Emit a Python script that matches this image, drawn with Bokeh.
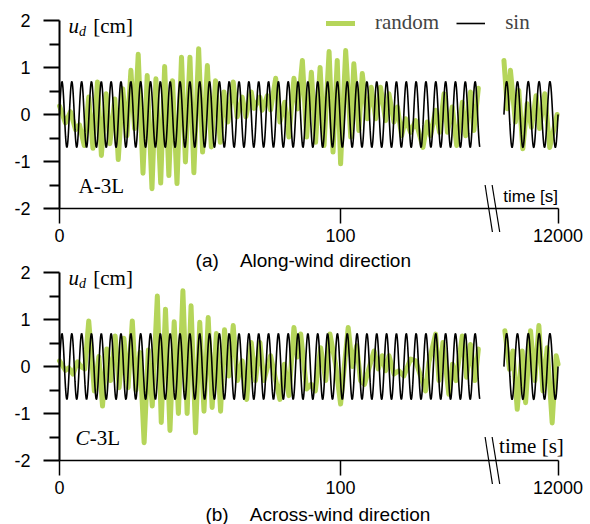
import numpy as np
from bokeh.plotting import figure
from bokeh.models import (LinearAxis, FixedTicker, Label, Legend, LegendItem, Range1d)
from bokeh.layouts import column
from bokeh.embed import file_html
from bokeh.resources import INLINE

# ---------------- data ----------------
SIN_AMPLITUDE = 0.7
SIN_PERIOD = 12000 / 3429          # ~3.5 s
SIN_LEFT_END = 149.5
RIGHT_START = 11982.5
RIGHT_END = 12000

X_TICKS = [0, 100, 12000]
X_TICK_LABELS = ["0", "100", "12000"]
Y_TICKS = [-2, -1, 0, 1, 2]
Y_TICK_LABELS = ["-2", "-1", "0", "1", "2"]
Y_MINOR = [-1.5, -0.5, 0.5, 1.5]

# (a) along-wind, random record: extrema (time, value)
a_left_t = [0.0, 2.1, 3.9, 5.7, 7.1, 8.8, 10.4, 11.9, 13.5, 14.9, 16.6, 17.9, 19.7, 20.9,
            22.5, 24.0, 25.4, 26.7, 28.0, 29.7, 31.2, 32.9, 34.3, 36.0, 37.4, 38.9, 40.2,
            41.8, 43.4, 44.8, 46.4, 47.8, 49.5, 50.9, 52.6, 54.0, 55.5, 57.2, 58.5, 59.9,
            61.8, 63.2, 65.0, 66.3, 68.2, 69.2, 71.3, 72.1, 73.9, 75.1, 76.9, 78.4, 80.1,
            81.6, 83.4, 84.8, 86.4, 87.9, 89.6, 91.1, 92.7, 94.1, 95.9, 97.3, 98.8, 100.0,
            101.8, 103.6, 104.7, 106.5, 107.7, 109.5, 110.9, 112.5, 114.2, 116.0, 117.2,
            119.0, 120.2, 121.7, 123.1, 124.9, 126.7, 129.3, 130.8, 132.0, 133.8, 135.2,
            136.8, 138.0, 139.7, 141.3, 143.3, 144.5, 146.2, 147.4, 149.0]
a_left_v = [0.18, -0.18, 0.06, -0.32, -0.22, -0.66, 0.37, -0.72, 0.69, -0.87, 0.44, -0.62,
            0.33, -0.96, 0.55, -0.45, 0.94, -0.3, 1.28, -1.25, 0.83, -1.58, 0.76, -1.46,
            1.02, -1.3, 0.72, -1.47, 1.22, -1.01, 1.22, -1.24, 1.4, -0.8, 1.04, -0.69, 0.72,
            -0.59, 0.48, -0.16, 0.69, -0.05, 0.37, -0.05, 0.48, 0.13, 0.37, 0.09, 0.4, 0.1,
            0.77, -0.16, 0.26, -0.48, 0.77, 0.12, 1.15, -0.48, 0.9, -0.59, 1.0, -0.66, 1.34,
            -0.8, 1.15, -1.05, 1.36, -0.48, 1.08, -0.34, 0.87, -0.09, 0.58, -0.09, 0.58,
            -0.13, 0.44, -0.16, 0.16, -0.45, -0.09, -0.38, -0.13, -0.7, -0.16, -0.45, 0.09,
            -0.38, 0.44, -0.38, 0.16, -0.66, 0.26, -0.45, 0.48, -0.34, 0.56]
a_right_t = [11982.5, 11983.6, 11984.6, 11986.2, 11987.3, 11988.6, 11990.0, 11991.4,
             11992.9, 11994.0, 11995.7, 11997.3, 11999.7]
a_right_v = [1.15, 0.12, 0.94, -0.16, 0.51, -0.73, 0.23, -0.27, 0.4, -0.3, 0.44, -0.7, 0.0]

# (b) across-wind, random record: extrema (time, value)
b_left_t = [0.0, 2.1, 3.3, 4.8, 6.4, 7.6, 9.0, 10.4, 12.4, 14.0, 15.3, 16.8, 18.2, 19.8,
            21.2, 22.9, 24.4, 25.9, 27.2, 28.6, 30.1, 31.6, 33.0, 34.8, 36.2, 37.7, 39.3,
            40.8, 42.3, 43.9, 45.4, 46.8, 48.4, 49.9, 51.4, 52.9, 54.3, 55.8, 57.3, 58.7,
            60.3, 61.8, 63.3, 65.0, 66.6, 68.2, 69.7, 71.3, 72.7, 75.1, 78.4, 80.0, 81.6,
            83.4, 84.6, 85.8, 87.9, 89.5, 91.0, 92.9, 94.7, 96.2, 98.2, 100.0, 102.7, 104.2,
            105.7, 107.1, 108.5, 109.8, 111.9, 113.4, 114.8, 116.0, 117.2, 119.0, 120.7,
            122.5, 124.9, 126.7, 129.0, 130.2, 131.4, 133.8, 135.0, 136.4, 138.5, 139.8,
            141.0, 143.3, 144.8, 146.2, 147.8, 149.0]
b_left_v = [0.12, -0.08, -0.03, -0.16, 0.1, 0.0, -0.05, 0.97, -0.52, 0.21, -0.84, 0.37,
            -0.3, 0.65, -0.45, 0.6, -0.45, 0.97, -0.5, 0.3, -1.62, 0.35, -0.84, 1.5, -1.19,
            1.22, -1.36, 0.95, -1.0, 1.61, -1.0, 1.29, -1.41, 0.94, -0.95, 1.04, -0.87, 0.7,
            -0.95, 0.78, -0.2, 0.87, -0.3, 0.12, -0.7, 0.51, -0.3, 0.51, -0.3, 0.23, -0.7,
            0.05, -0.62, 0.83, 0.2, 0.69, -0.48, -0.38, -0.52, 0.4, -0.3, 0.69, 0.05, -0.8,
            0.83, 0.0, 0.44, -0.3, -0.38, -0.1, 0.33, -0.05, 0.23, -0.09, 0.23, -0.16, -0.09,
            -0.2, 0.16, 0.12, -0.3, -0.52, 0.09, 0.69, -0.3, 0.51, -0.59, 0.05, -0.3, 0.65,
            -0.23, 0.47, -0.3, 0.37]
b_right_t = [11982.8, 11984.3, 11985.4, 11986.8, 11988.4, 11989.5, 11991.1, 11992.5,
             11993.8, 11995.1, 11996.5, 11998.1, 11999.4, 12000.0]
b_right_v = [0.76, -0.06, 0.33, -0.91, 0.33, -0.77, 0.76, -0.3, 0.87, -0.52, 0.4, -1.2,
             0.23, 0.05]

CAPTION_A = ("(a)", "Along-wind direction")
CAPTION_B = ("(b)", "Across-wind direction")

# ---------------- styling / layout ----------------
GREEN = "#b5d55a"
SANS = "Liberation Sans"
SERIF = "Liberation Serif"
W = 590
PX = 47.0               # pixels per y unit
PXX = 506 / 180.0       # pixels per x unit
X0_PX = 59              # pixel column of t = 0
RIGHT_X0 = 158.1        # display position where the post-break segment starts
RIGHT_SCALE = 1.1       # post-break segment is drawn slightly stretched
NB = "\u00a0" * 4


def to_disp(t):
    t = np.asarray(t, dtype=float)
    return np.where(t < 1000, t, RIGHT_X0 + (t - RIGHT_START) * RIGHT_SCALE)


def text_label(x, base_y, text, font, size, style="normal", align="left"):
    # base_y is the wanted baseline; compensate for how the label is anchored
    y = base_y + 0.33 * size / PX
    return Label(x=x, y=y, text=text, text_font=font, text_font_size=f"{size}px",
                 text_font_style=style, text_align=align, text_baseline="alphabetic",
                 text_color="black")


X_END = float(to_disp(RIGHT_END))
x_tick_pos = [float(v) for v in to_disp(X_TICKS)]

t_sin_left = np.linspace(0, SIN_LEFT_END, 1600)
t_sin_right = np.linspace(RIGHT_START, RIGHT_END, 300)


def sin_vals(t):
    return SIN_AMPLITUDE * np.sin(2 * np.pi * t / SIN_PERIOD)


def make_panel(height, above_px, rl_t, rl_v, rr_t, rr_v, legend, time_font, time_size,
               time_x, time_y, tag_parts):
    # the frame fills the whole figure; y = 2 sits `above_px` below its top
    y_top = 2 + above_px / PX
    y_bot = y_top - height / PX
    x_lo = -X0_PX / PXX
    x_hi = (W - X0_PX) / PXX
    p = figure(width=W, height=height, x_range=Range1d(x_lo, x_hi),
               y_range=Range1d(y_bot, y_top), output_backend="svg", toolbar_location=None,
               x_axis_type=None, y_axis_type=None, min_border_left=0,
               min_border_right=0, min_border_top=0, min_border_bottom=0)
    p.outline_line_color = None
    p.background_fill_color = "white"
    p.border_fill_color = "white"

    yax = LinearAxis(ticker=FixedTicker(ticks=Y_TICKS, minor_ticks=Y_MINOR), bounds=(-2, 2),
                     fixed_location=0, axis_line_width=2, major_tick_out=16,
                     major_tick_in=0, minor_tick_out=10, minor_tick_in=0,
                     major_tick_line_width=2, minor_tick_line_width=2,
                     major_label_standoff=13,
                     major_label_overrides=dict(zip(Y_TICKS, Y_TICK_LABELS)),
                     major_label_text_font=SANS, major_label_text_font_size="18px",
                     major_label_text_color="black")
    p.add_layout(yax, "left")
    xax = LinearAxis(ticker=FixedTicker(ticks=x_tick_pos, minor_ticks=[]),
                     bounds=(0, X_END), fixed_location=-2, axis_line_width=1.5,
                     major_tick_out=15, major_tick_in=0, major_tick_line_width=1.5,
                     major_label_standoff=5,
                     major_label_overrides=dict(zip(x_tick_pos, X_TICK_LABELS)),
                     major_label_text_font=SANS, major_label_text_font_size="18px",
                     major_label_text_color="black")
    p.add_layout(xax, "below")

    g = p.multi_line(xs=[list(to_disp(rl_t)), list(to_disp(rr_t))], ys=[rl_v, rr_v],
                     line_color=GREEN, line_width=5, line_join="round", line_cap="round")
    s = p.multi_line(xs=[list(to_disp(t_sin_left)), list(to_disp(t_sin_right))],
                     ys=[list(sin_vals(t_sin_left)), list(sin_vals(t_sin_right))],
                     line_color="black", line_width=1.6)

    # axis break marks
    p.segment(x0=[151.4, 153.9], y0=[-1.5, -1.5], x1=[154.0, 156.6], y1=[-2.5, -2.5],
              line_color="black", line_width=1.2)

    p.add_layout(text_label(time_x, time_y, "time [s]", time_font, time_size, align="right"))

    # y label u_d [cm]
    p.add_layout(text_label(3.2, 1.73, "u", SERIF, 21, "italic"))
    p.add_layout(text_label(6.9, 1.66, "d", SERIF, 14, "italic"))
    p.add_layout(text_label(12.0, 1.73, "[cm]", SERIF, 21))

    # case tag
    for txt, style, x in tag_parts:
        p.add_layout(text_label(x, -1.66, txt, SERIF, 21, style))

    if legend:
        lg = Legend(items=[LegendItem(label="random", renderers=[g]),
                           LegendItem(label="sin", renderers=[s])],
                    orientation="horizontal", location=(326, height - 35), padding=0,
                    margin=0, glyph_width=29, glyph_height=24, label_height=24,
                    label_standoff=20, spacing=17, label_text_font=SERIF,
                    label_text_font_size="21px", border_line_color=None,
                    background_fill_alpha=0)
        p.add_layout(lg)
    return p


p1 = make_panel(247, 20, a_left_t, a_left_v, a_right_t, a_right_v, True, SANS,
                17, X_END, -1.86, [("A-3L", "normal", 6.8)])
p2 = make_panel(277, 25, b_left_t, b_left_v, b_right_t, b_right_v, False, SERIF,
                21, 179.4, -1.84, [("C", "italic", 5.7), ("-3L", "normal", 10.8)])
p2.add_layout(text_label(48.4, 2 + 6 / PX, CAPTION_A[0] + NB + CAPTION_A[1], SANS, 19))
p2.add_layout(text_label(51.9, 2 - 248 / PX, CAPTION_B[0] + NB + CAPTION_B[1], SANS, 19))

layout = column(p1, p2, spacing=0)
open("out.html", "w").write(file_html(layout, INLINE))
